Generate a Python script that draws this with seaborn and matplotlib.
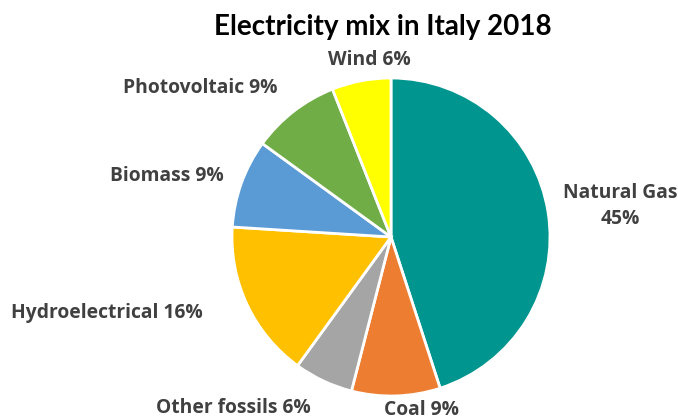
import matplotlib
matplotlib.use("Agg")
import matplotlib.pyplot as plt
import seaborn as sns

# Electricity generation shares, Italy 2018 (clockwise from 12 o'clock)
sources = ["Natural Gas", "Coal", "Other fossils", "Hydroelectrical",
           "Biomass", "Photovoltaic", "Wind"]
shares = [45, 9, 6, 16, 9, 9, 6]
colors = ["#00968F", "#ED7D31", "#A5A5A5", "#FFC000",
          "#5B9BD5", "#70AD47", "#FFFF00"]

sns.set_theme(style="white")
plt.rcParams["font.family"] = ["Open Sans", "DejaVu Sans"]

W, H = 678, 420
fig = plt.figure(figsize=(W / 100, H / 100), dpi=100)
ax = fig.add_axes([0, 0, 1, 1])

cx, cy, r = 391, H - 237, 159
ax.pie(shares, colors=colors, startangle=90, counterclock=False,
       center=(cx, cy), radius=r, frame=True,
       wedgeprops=dict(edgecolor="white", linewidth=2))
ax.set_xlim(0, W)
ax.set_ylim(0, H)
ax.set_aspect("equal")
ax.axis("off")

# label anchor points (pixels from top-left)
label_pos = [(620, 206), (421, 410), (233, 408), (107, 313),
             (167, 176), (200, 88), (369, 60)]
for name, pct, (x, y) in zip(sources, shares, label_pos):
    txt = f"{name}\n{pct}%" if name == "Natural Gas" else f"{name} {pct}%"
    ax.text(x, H - y, txt, ha="center", va="center", fontsize=13.9,
            fontweight="bold", color="#404040", linespacing=1.45)

ax.text(383, H - 27, "Electricity mix in Italy 2018", ha="center",
        va="center", fontsize=20, fontweight="bold", color="black",
        family=["Lato", "DejaVu Sans"])

fig.savefig("out.png", dpi=100)
